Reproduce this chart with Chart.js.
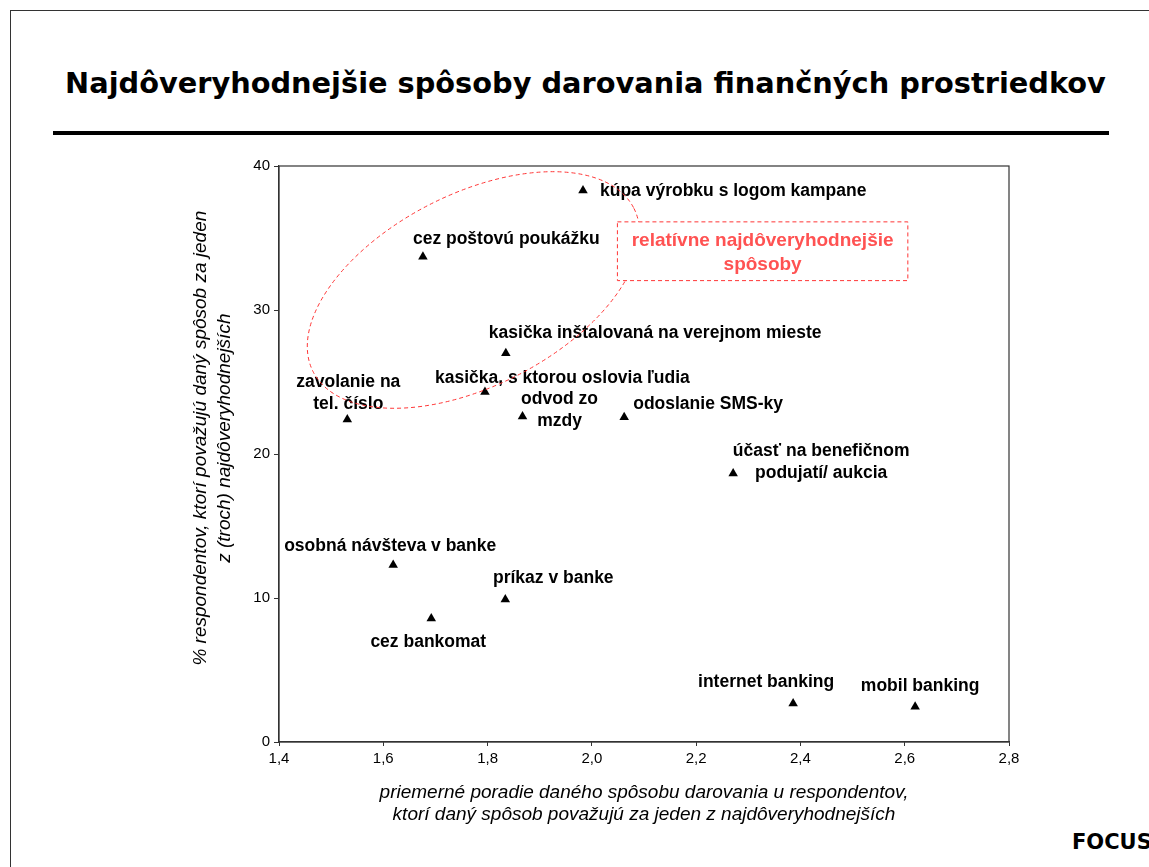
<!DOCTYPE html>
<html>
<head>
<meta charset="utf-8">
<script src="https://cdn.jsdelivr.net/npm/chart.js@4.4.1/dist/chart.umd.min.js"></script>
<style>
  html, body { margin: 0; padding: 0; background: #fff; overflow: hidden; }
  .page { position: relative; width: 1149px; height: 867px; overflow: hidden; }
  .frame { position: absolute; left: 10px; top: 10px; width: 1200px; height: 900px; border: 1px solid #333; box-sizing: border-box; }
  .pageTitle { position: absolute; left: 0; width: 1171px; top: 69px; text-align: center; font: bold 28.8px/28.8px "DejaVu Sans"; color: #000; white-space: nowrap; }
  .rule { position: absolute; left: 53px; top: 131px; width: 1056px; height: 4px; background: #000; }
  .focus { position: absolute; left: 1072px; top: 832px; font: bold 21px/21px "DejaVu Sans"; color: #000; white-space: nowrap; }
  canvas { position: absolute; left: 0; top: 0; }
</style>
</head>
<body>
<div class="page">
  <div class="frame"></div>
  <div class="pageTitle">Najdôveryhodnejšie spôsoby darovania finančných prostriedkov</div>
  <div class="rule"></div>
  <div class="focus">FOCUS</div>
  <canvas id="chart" width="1149" height="867"></canvas>
</div>
<script>
'use strict'

//spôsoby darovania
const methods = [
	'kúpa výrobku s logom kampane',
	'cez poštovú poukážku',
	'kasička inštalovaná na verejnom mieste',
	'kasička, s ktorou oslovia ľudia',
	'zavolanie na\ntel. číslo',
	'odvod zo\nmzdy',
	'odoslanie SMS-ky',
	'účasť na benefičnom\npodujatí/ aukcia',
	'osobná návšteva v banke',
	'príkaz v banke',
	'cez bankomat',
	'internet banking',
	'mobil banking'
];
//priemerné poradie
const avgRank = [1.983, 1.676, 1.835, 1.795, 1.531, 1.867, 2.062, 2.271, 1.619, 1.834, 1.692, 2.386, 2.620];
//% respondentov
const pctTrusted = [38.3, 33.7, 27.0, 24.3, 22.4, 22.6, 22.55, 18.65, 12.3, 9.9, 8.57, 2.68, 2.45];
//osi
const xTicks = [1.4, 1.6, 1.8, 2.0, 2.2, 2.4, 2.6, 2.8];
const yTicks = [0, 10, 20, 30, 40];

//umiestnenie popiskov voči bodu (px)
const labelLayout = [
	{ dx: 17, dy: 1, align: 'left' },
	{ dx: -10, dy: -18, align: 'left' },
	{ dx: -17, dy: -20, align: 'left' },
	{ dx: -50, dy: -14, align: 'left' },
	{ dx: 1, dy: -37, align: 'center' },
	{ dx: 37, dy: -17, align: 'center' },
	{ dx: 9, dy: -13, align: 'left' },
	{ dx: 88, dy: -22, align: 'center' },
	{ dx: -3, dy: -19, align: 'center' },
	{ dx: 48, dy: -21, align: 'center' },
	{ dx: -3, dy: 24, align: 'center' },
	{ dx: -27, dy: -21, align: 'center' },
	{ dx: 5, dy: -21, align: 'center' }
];

const highlightText = ['relatívne najdôveryhodnejšie', 'spôsoby'];
const red = '#ff3535';
//titulok osi y je trochu posunutý nahor oproti stredu grafu
const yTitlePad = '      ';

const points = avgRank.map((x, i) => ({ x: x, y: pctTrusted[i] }));

//rámik, popisky, elipsa
const overlayPlugin = {
	id: 'overlay',
	afterDatasetsDraw(chart){
		const ctx = chart.ctx;
		const area = chart.chartArea;
		const sx = chart.scales.x;
		const sy = chart.scales.y;

		ctx.save();
		ctx.strokeStyle = '#333';
		ctx.lineWidth = 1.2;
		ctx.strokeRect(area.left, area.top, area.right - area.left, area.bottom - area.top);

		//popisky bodov
		ctx.fillStyle = '#000';
		ctx.font = 'bold 17.5px "Liberation Sans"';
		ctx.textBaseline = 'middle';
		const meta = chart.getDatasetMeta(0);
		meta.data.forEach((el, i) => {
			const lay = labelLayout[i];
			ctx.textAlign = lay.align;
			methods[i].split('\n').forEach((line, j) => {
				ctx.fillText(line, el.x + lay.dx, el.y + lay.dy + j * 21.5);
			});
		});

		//elipsa
		const cx = sx.getPixelForValue(1.773);
		const cy = sy.getPixelForValue(31.39);
		ctx.strokeStyle = red;
		ctx.lineWidth = 1;
		ctx.setLineDash([4, 3]);
		ctx.beginPath();
		ctx.ellipse(cx, cy, 180, 96, -27 * Math.PI / 180, 0, Math.PI * 2);
		ctx.stroke();

		//rámček s textom
		const bx1 = sx.getPixelForValue(2.049);
		const bx2 = sx.getPixelForValue(2.606);
		const by1 = sy.getPixelForValue(36.12);
		const by2 = sy.getPixelForValue(32.04);
		ctx.fillStyle = '#fff';
		ctx.fillRect(bx1, by1, bx2 - bx1, by2 - by1);
		ctx.strokeRect(bx1, by1, bx2 - bx1, by2 - by1);
		ctx.setLineDash([]);
		ctx.fillStyle = '#ff5252';
		ctx.font = 'bold 19px "Liberation Sans"';
		ctx.textAlign = 'center';
		const mid = (bx1 + bx2) / 2;
		ctx.fillText(highlightText[0], mid, by1 + 19);
		ctx.fillText(highlightText[1], mid, by1 + 43);
		ctx.restore();
	}
};

new Chart(document.getElementById('chart'), {
	type: 'scatter',
	data: {
		datasets: [{
			data: points,
			pointStyle: 'triangle',
			pointRadius: 5.5,
			pointHoverRadius: 5.5,
			backgroundColor: '#000',
			borderColor: '#000',
			borderWidth: 0
		}]
	},
	plugins: [overlayPlugin],
	options: {
		responsive: false,
		animation: false,
		events: [],
		layout: { padding: { left: 177, top: 166, right: 140, bottom: 35 } },
		plugins: {
			legend: { display: false },
			tooltip: { enabled: false }
		},
		scales: {
			x: {
				type: 'linear',
				min: 1.4,
				max: 2.8,
				afterFit: (s) => { s.height = 90; },
				afterBuildTicks: (s) => { s.ticks = xTicks.map((v) => ({ value: v })); },
				grid: { drawOnChartArea: false, drawTicks: true, tickLength: 4, color: '#333' },
				border: { color: '#333', width: 1.2 },
				ticks: {
					color: '#000',
					padding: 4,
					font: { family: 'Liberation Sans', size: 15 },
					callback: (v) => v.toFixed(1).replace('.', ',')
				},
				title: {
					display: true,
					text: ['priemerné poradie daného spôsobu darovania u respondentov,', 'ktorí daný spôsob považujú za jeden z najdôveryhodnejších'],
					color: '#000',
					font: { family: 'Liberation Sans', size: 19, style: 'italic', lineHeight: '22px' },
					padding: { top: 0, bottom: 6 }
				}
			},
			y: {
				type: 'linear',
				min: 0,
				max: 40,
				afterFit: (s) => { s.width = 102; },
				afterBuildTicks: (s) => { s.ticks = yTicks.map((v) => ({ value: v })); },
				grid: { drawOnChartArea: false, drawTicks: true, tickLength: 5, color: '#333' },
				border: { color: '#333', width: 1.2 },
				ticks: {
					color: '#000',
					padding: 4,
					font: { family: 'Liberation Sans', size: 15 }
				},
				title: {
					display: true,
					text: [yTitlePad + '% respondentov, ktorí považujú daný spôsob za jeden', yTitlePad + 'z (troch) najdôveryhodnejších'],
					color: '#000',
					font: { family: 'Liberation Sans', size: 19, style: 'italic', lineHeight: '24px' },
					padding: { top: 12, bottom: 0 }
				}
			}
		}
	}
});
</script>
</body>
</html>
